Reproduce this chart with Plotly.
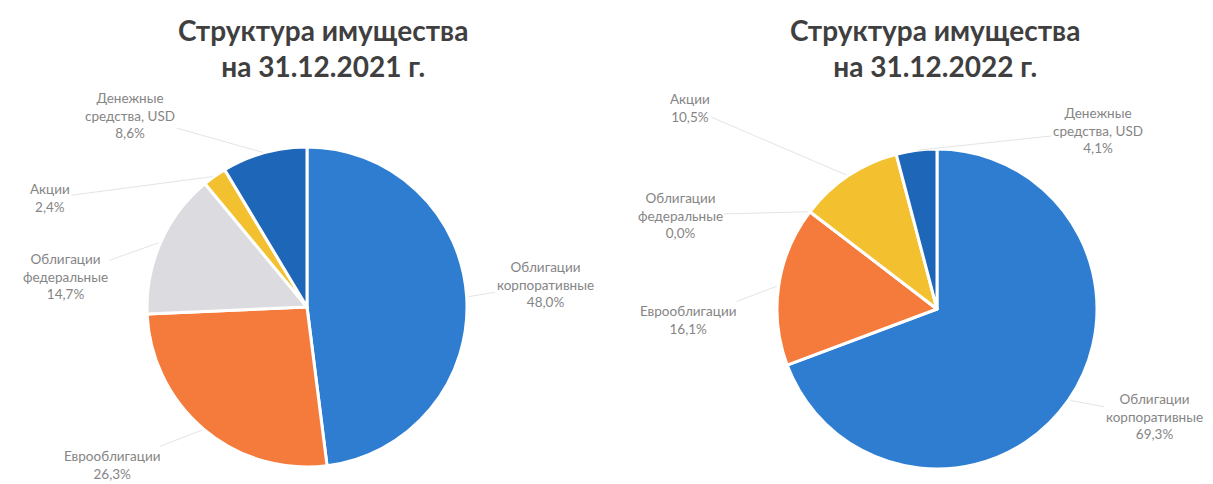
import math
import plotly.graph_objects as go

# ---- data ----
categories = ["Облигации<br>корпоративные", "Еврооблигации", "Облигации<br>федеральные",
              "Акции", "Денежные<br>средства, USD"]
values_2021 = [48.0, 26.3, 14.7, 2.4, 8.6]
values_2022 = [69.3, 16.1, 0.0, 10.5, 4.1]
titles = ["Структура имущества<br>на 31.12.2021 г.", "Структура имущества<br>на 31.12.2022 г."]

# ---- styles / layout ----
W, H = 1213, 484
colors = ["#2E7DD1", "#F47B3B", "#DCDCE0", "#F3C12F", "#1E66B8"]
pie_center = [(307, 307), (937, 309)]
pie_r = 160
label_pos = [
    [(545, 284), (112, 465), (65, 276), (50, 198), (130, 115)],
    [(1154, 416), (688, 320), (680, 215), (690, 108), (1098, 131)],
]
title_pos = [(323, 48), (935, 48)]


def px2paper(x, y):
    return x / W, 1 - y / H


def fmt(v):
    return f"{v:.1f}".replace(".", ",") + "%"


fig = go.Figure()
annotations = []
for i, vals in enumerate([values_2021, values_2022]):
    cx, cy = pie_center[i]
    x0, y1 = px2paper(cx - pie_r, cy - pie_r)
    x1, y0 = px2paper(cx + pie_r, cy + pie_r)
    fig.add_trace(go.Pie(
        labels=[c.replace("<br>", " ") for c in categories], values=vals,
        sort=False, direction="clockwise", rotation=0,
        marker=dict(colors=colors, line=dict(color="white", width=3)),
        textinfo="none", hoverinfo="label+percent",
        domain=dict(x=[x0, x1], y=[y0, y1]), showlegend=False,
    ))
    total = sum(vals)
    cum = 0
    for j, v in enumerate(vals):
        mid = (cum + v / 2) / total * 2 * math.pi
        cum += v
        tx = cx + pie_r * math.sin(mid)
        ty = cy - pie_r * math.cos(mid)
        lx, ly = label_pos[i][j]
        px, py = px2paper(tx, ty)
        annotations.append(dict(
            x=px, y=py, xref="paper", yref="paper",
            text=categories[j] + "<br>" + fmt(v),
            showarrow=True, arrowhead=0, arrowwidth=1, arrowcolor="#e4e4e4",
            ax=lx - tx, ay=ly - ty, standoff=2,
            font=dict(family="Lato, Noto Sans, sans-serif", size=13.5, color="#858585"),
            align="center",
        ))
    tx_, ty_ = title_pos[i]
    px, py = px2paper(tx_, ty_)
    annotations.append(dict(
        x=px, y=py, xref="paper", yref="paper", showarrow=False,
        text="<b>" + titles[i] + "</b>", xanchor="center", yanchor="middle",
        font=dict(family="Lato, Noto Sans, sans-serif", size=28, color="#3f3f3f"),
        align="center",
    ))

fig.update_layout(
    width=W, height=H, margin=dict(l=0, r=0, t=0, b=0),
    paper_bgcolor="white", plot_bgcolor="white",
    annotations=annotations,
)
fig.write_html("out.html", config={"displayModeBar": False},
               post_script="document.body.style.margin='0';")
